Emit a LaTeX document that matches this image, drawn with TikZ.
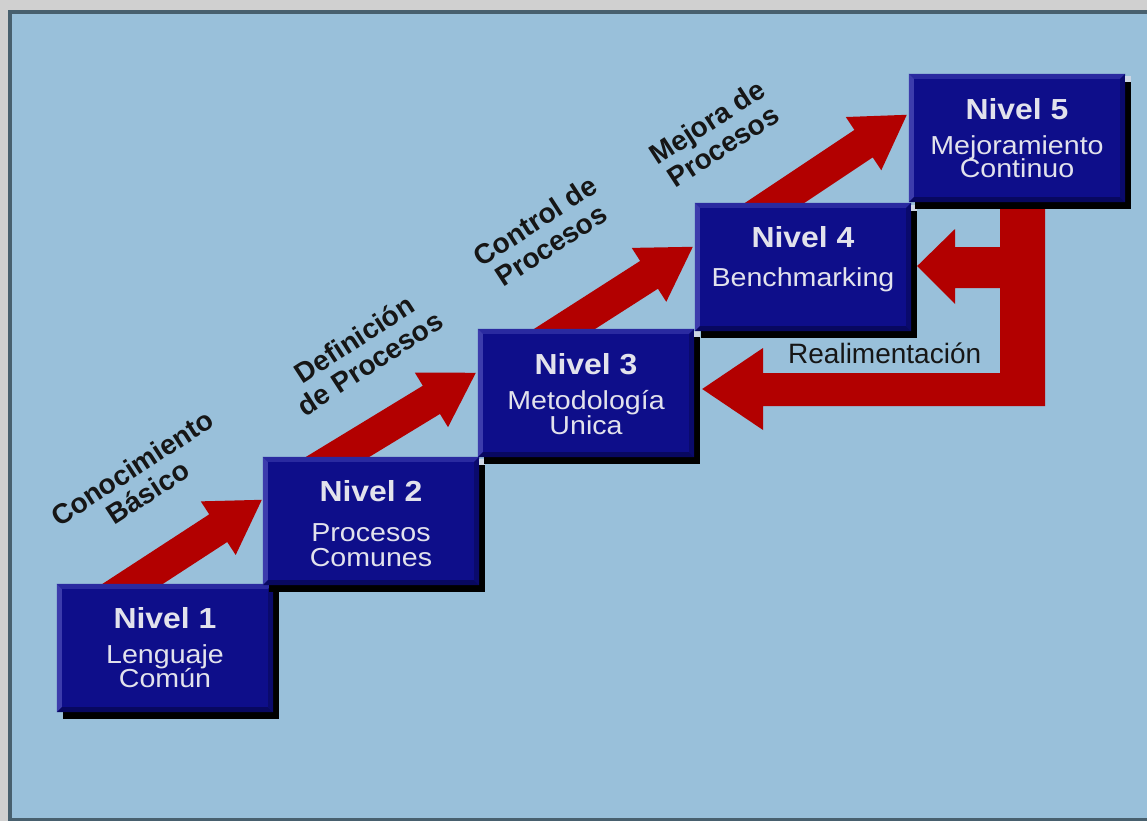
\documentclass[tikz,border=0pt]{standalone}
\usepackage{fontspec}
\setmainfont{Liberation Sans}
\newfontfamily\boxfont[FakeStretch=1.1]{Liberation Sans}
\usetikzlibrary{calc,shadows}
\definecolor{outergrey}{RGB}{208,208,208}
\definecolor{framedark}{RGB}{72,96,110}
\definecolor{panel}{RGB}{153,192,218}
\definecolor{navy}{RGB}{14,14,138}
\definecolor{bevlight}{RGB}{60,60,172}
\definecolor{bevtopc}{RGB}{42,42,160}
\definecolor{bevdark}{RGB}{8,8,96}
\definecolor{bevright}{RGB}{10,10,108}
\definecolor{arrowred}{RGB}{178,0,0}
\definecolor{boxtext}{RGB}{226,226,236}
\definecolor{labeltext}{RGB}{22,22,22}
\definecolor{dotc}{RGB}{205,214,228}
\newcommand\riseArrow[2]{%
  \path ($(#2)!52pt!(#1)$) coordinate (hb) ($(#1)!-40pt!(#2)$) coordinate (tb);
  \fill[arrowred] ($(tb)!16.5pt!90:(#2)$) -- ($(hb)!16.5pt!90:(#2)$) -- ($(hb)!32pt!90:(#2)$) -- (#2)
    -- ($(hb)!32pt!-90:(#2)$) -- ($(hb)!16.5pt!-90:(#2)$) -- ($(tb)!16.5pt!-90:(#2)$) -- cycle;}
\newcommand\bevelBox[1]{%
  \fill[bevtopc] (#1.north west) -- (#1.north east) -- ($(#1.north east)+(-5,5)$) -- ($(#1.north west)+(5,5)$) -- cycle;
  \fill[bevlight] (#1.north west) -- ($(#1.north west)+(5,5)$) -- ($(#1.south west)+(5,-5)$) -- (#1.south west) -- cycle;
  \fill[bevdark] (#1.south west) -- ($(#1.south west)+(5,-5)$) -- ($(#1.south east)+(-5,-5)$) -- (#1.south east) -- cycle;
  \fill[bevright] (#1.north east) -- ($(#1.north east)+(-5,5)$) -- ($(#1.south east)+(-5,-5)$) -- (#1.south east) -- cycle;
  \fill[dotc] ($(#1.north east)+(0,2)$) rectangle ($(#1.north east)+(6,8)$);}
\begin{document}
\begin{tikzpicture}[x=1pt,y=-1pt,
  lvlbox/.style={rectangle, fill=navy, draw=none, inner sep=0pt,
    minimum width=216pt, minimum height=128pt,
    drop shadow={shadow xshift=6pt, shadow yshift=-7pt, fill=black, opacity=1}},
  nivtxt/.style={anchor=base, inner sep=0pt, text=boxtext, font=\boxfont\bfseries\fontsize{29}{29}\selectfont},
  subtxt/.style={anchor=base, inner sep=0pt, text=boxtext, font=\boxfont\fontsize{26}{24}\selectfont},
  lbl/.style={align=center, rotate=33, inner sep=0pt, text=labeltext, font=\bfseries\fontsize{28}{29}\selectfont},
  fbtxt/.style={anchor=base west, inner sep=0pt, text=labeltext, font=\fontsize{28}{28}\selectfont}]
\useasboundingbox (0,0) rectangle (1147,821);
% background frame
\fill[outergrey] (0,0) rectangle (1147,821);
\fill[framedark] (8,10) rectangle (1147,821);
\fill[panel] (12,14) rectangle (1147,818);
% box positions (invisible placeholders for geometry)
\path (165,648) node[minimum width=216pt, minimum height=128pt, inner sep=0pt] (B1) {}
      (371,521) node[minimum width=216pt, minimum height=128pt, inner sep=0pt] (B2) {}
      (586,393) node[minimum width=216pt, minimum height=128pt, inner sep=0pt] (B3) {}
      (803,267) node[minimum width=216pt, minimum height=128pt, inner sep=0pt] (B4) {}
      (1017,138) node[minimum width=216pt, minimum height=128pt, inner sep=0pt] (B5) {};
% rising arrows
\coordinate (t1) at ($(B1.north west)+(76,0)$);
\coordinate (p1) at ($(B2.north west)+(-1,43)$);
\coordinate (t2) at ($(B2.north west)+(75,0)$);
\coordinate (p2) at ($(B3.north west)+(-2,44)$);
\coordinate (t3) at ($(B3.north west)+(87,0)$);
\coordinate (p3) at ($(B4.north west)+(-2,44)$);
\coordinate (t4) at ($(B4.north west)+(80,0)$);
\coordinate (p4) at ($(B5.north west)+(-2,41)$);
\riseArrow{t1}{p1}
\riseArrow{t2}{p2}
\riseArrow{t3}{p3}
\riseArrow{t4}{p4}
% feedback arrows
\coordinate (fbL) at ($(B3.east)+(8,-4)$);
\coordinate (fbU) at ($(B4.east)+(6,-1)$);
\fill[arrowred] (1000,200) -- (1045,200) -- (1045,406) -- (763,406) -- (763,430) -- (fbL)
  -- (763,348) -- (763,373) -- (1000,373) -- (1000,288) -- (955,288) -- (955,304) -- (fbU)
  -- (955,229) -- (955,247) -- (1000,247) -- cycle;
% boxes
\foreach \b in {B1,B2,B3,B4,B5}{
  \node[lvlbox] at (\b.center) {};
  \bevelBox{\b}
}
% box texts
\node[nivtxt] (N1) at ($(B1.north)+(0,45)$) {Nivel 1};
\node[subtxt] (S1a) at ($(B1.north)+(0,80)$) {Lenguaje};
\node[subtxt] (S1b) at ($(B1.north)+(0,104)$) {Común};
\node[nivtxt] (N2) at ($(B2.north)+(0,45)$) {Nivel 2};
\node[subtxt] (S2a) at ($(B2.north)+(0,85)$) {Procesos};
\node[subtxt] (S2b) at ($(B2.north)+(0,110)$) {Comunes};
\node[nivtxt] (N3) at ($(B3.north)+(0,46)$) {Nivel 3};
\node[subtxt] (S3a) at ($(B3.north)+(0,81)$) {Metodología};
\node[subtxt] (S3b) at ($(B3.north)+(0,106)$) {Unica};
\node[nivtxt] (N4) at ($(B4.north)+(0,45)$) {Nivel 4};
\node[subtxt] (S4a) at ($(B4.north)+(0,84)$) {Benchmarking};
\node[nivtxt] (N5) at ($(B5.north)+(0,46)$) {Nivel 5};
\node[subtxt] (S5a) at ($(B5.north)+(0,81)$) {Mejoramiento};
\node[subtxt] (S5b) at ($(B5.north)+(0,104)$) {Continuo};
% diagonal labels
\node[lbl] (L1) at (140,480) {Conocimiento\\Básico};
\node[lbl] (L2) at (362,351) {Definición\\de Procesos};
\node[lbl] (L3) at (543,233) {Control de\\Procesos};
\node[lbl] (L4) at (715,134) {Mejora de\\Procesos};
\node[fbtxt] (R) at (788,363) {Realimentación};
\end{tikzpicture}
\end{document}
